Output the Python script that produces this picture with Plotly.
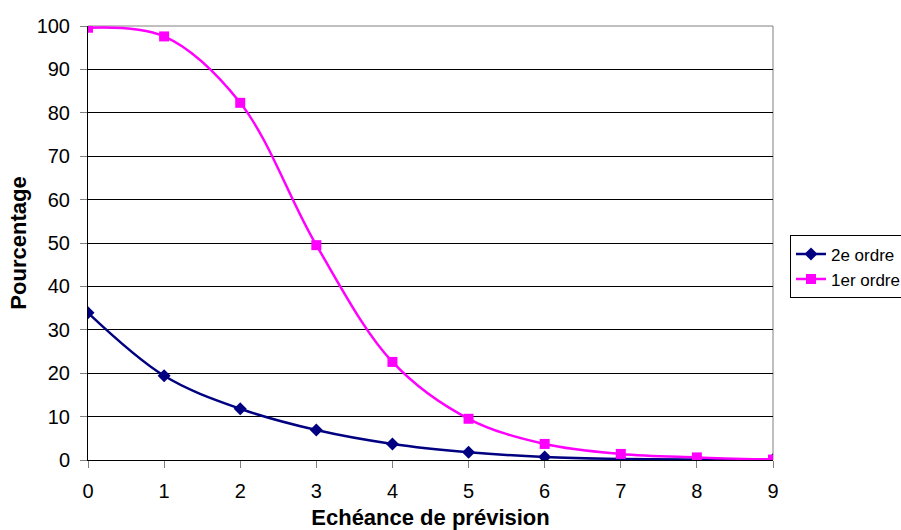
import plotly.graph_objects as go

x_vals = [0, 1, 2, 3, 4, 5, 6, 7, 8, 9]
ordre2 = [33.9, 19.4, 11.8, 6.9, 3.7, 1.8, 0.7, 0.25, 0.1, 0.05]
ordre1 = [99.6, 97.6, 82.3, 49.5, 22.6, 9.5, 3.7, 1.4, 0.6, 0.1]
y_ticks = list(range(0, 101, 10))

fig = go.Figure()
fig.add_trace(go.Scatter(
    x=x_vals, y=ordre2, name="2e ordre", mode="lines+markers",
    line=dict(color="#000080", width=2.5, shape="spline", smoothing=1),
    marker=dict(symbol="diamond", size=10, color="#000080"),
))
fig.add_trace(go.Scatter(
    x=x_vals, y=ordre1, name="1er ordre", mode="lines+markers",
    line=dict(color="#FF00FF", width=2.5, shape="spline", smoothing=1),
    marker=dict(symbol="square", size=10, color="#FF00FF"),
))

fig.update_layout(
    width=901, height=530,
    margin=dict(l=88, r=128, t=26, b=70, autoexpand=False),
    paper_bgcolor="white", plot_bgcolor="white",
    font=dict(family="Liberation Sans, Arial", size=20, color="black"),
    showlegend=True,
    legend=dict(x=1.0248, xanchor="left", y=0.445, yanchor="middle",
                bordercolor="black", borderwidth=1, bgcolor="white",
                font=dict(size=17), tracegroupgap=0, itemwidth=30),
    xaxis=dict(range=[0, 9], tickvals=x_vals, showgrid=False, zeroline=False,
               showline=True, linecolor="black", linewidth=1,
               ticks="outside", ticklen=7, tickcolor="#808080",
               ticklabelstandoff=6,
               title=dict(text="<b>Echéance de prévision</b>", font=dict(size=22), standoff=10)),
    yaxis=dict(range=[0, 100], tickvals=y_ticks, showgrid=True, gridcolor="black", gridwidth=1,
               zeroline=False, showline=True, linecolor="black", linewidth=1,
               ticks="outside", ticklen=7, tickcolor="#808080",
               ticklabelstandoff=6,
               title=dict(text="<b>Pourcentage</b>", font=dict(size=22), standoff=3)),
)
fig.add_shape(type="line", xref="paper", yref="paper", x0=0, x1=1, y0=1, y1=1,
              line=dict(color="#808080", width=1), layer="below")
fig.add_shape(type="line", xref="paper", yref="paper", x0=1, x1=1, y0=0, y1=1,
              line=dict(color="#808080", width=1), layer="below")

fig.write_html("out.html")
